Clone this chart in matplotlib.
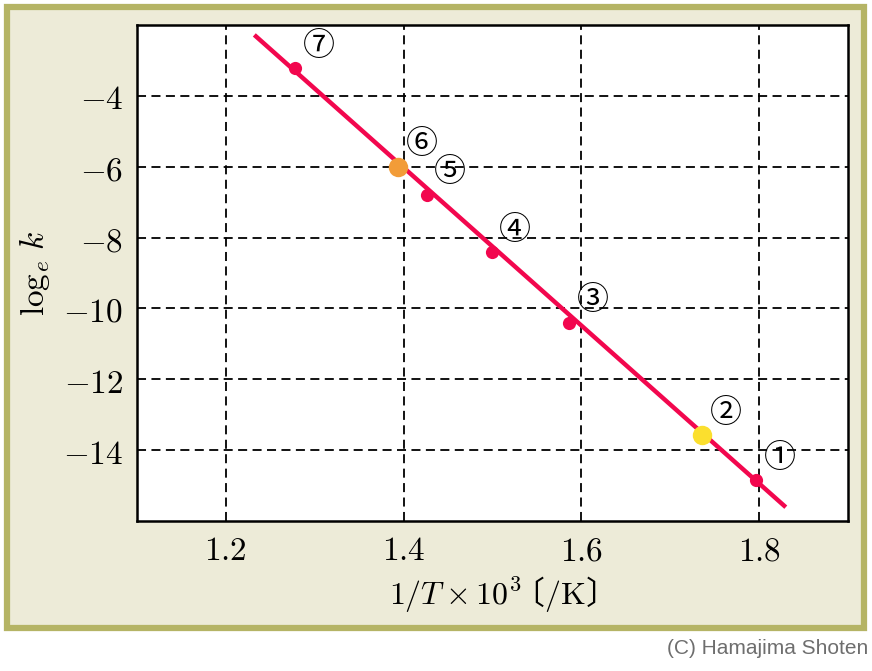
import numpy as np
import matplotlib
matplotlib.use("Agg")
import matplotlib.pyplot as plt
from matplotlib.patches import Rectangle
from matplotlib.ticker import FixedLocator, FuncFormatter

# data
pt_labels = ["①", "②", "③", "④", "⑤", "⑥", "⑦"]
inv_T = [1.797, 1.736, 1.586, 1.499, 1.426, 1.394, 1.278]
ln_k = [-14.85, -13.58, -10.40, -8.42, -6.79, -6.00, -3.21]
# highlighted points (index -> colour)
special = {1: "#FBDF2E", 5: "#F29C38"}

fit_x = [1.232, 1.830]
fit_y = [-2.28, -15.61]

x_ticks = [1.2, 1.4, 1.6, 1.8]
y_ticks = [-14, -12, -10, -8, -6, -4]

RED = "#F2074E"

plt.rcParams.update(
    {
        "mathtext.fontset": "cm",
        "font.family": ["Noto Sans CJK JP", "DejaVu Sans"],
    }
)

fig = plt.figure(figsize=(8.72, 6.71), dpi=100)

# cream panel with olive border
fig.patches.append(
    Rectangle(
        (7 / 872, 1 - 628 / 671), 857 / 872, 621 / 671,
        transform=fig.transFigure, facecolor="#EDEBD8",
        edgecolor="#B5B465", linewidth=4.5, zorder=-10,
    )
)

ax = fig.add_axes([137 / 872, 1 - 521 / 671, 711 / 872, 496 / 671])
ax.set_facecolor("white")
ax.set_zorder(1)

ax.plot(fit_x, fit_y, color=RED, lw=3.2, solid_capstyle="butt", zorder=3)

for i, (x, y) in enumerate(zip(inv_T, ln_k)):
    if i in special:
        ax.plot(x, y, "o", ms=14, color=special[i], mec="none", zorder=4)
    else:
        ax.plot(x, y, "o", ms=9.5, color=RED, mec="none", zorder=4)
    ax.annotate(
        pt_labels[i], (x, y), xytext=(17, 16), textcoords="offset points",
        ha="center", va="center", fontsize=23,
        family=["Noto Sans CJK JP", "DejaVu Sans"], zorder=5,
    )

ax.set_xlim(1.1, 1.9)
ax.set_ylim(-16, -2)
ax.xaxis.set_major_locator(FixedLocator(x_ticks))
ax.yaxis.set_major_locator(FixedLocator(y_ticks))
ax.xaxis.set_major_formatter(FuncFormatter(lambda v, p: f"${v:.1f}$"))
ax.yaxis.set_major_formatter(FuncFormatter(lambda v, p: f"${v:.0f}$"))
ax.tick_params(length=0, labelsize=24, pad=10)
ax.tick_params(axis="x", pad=9)

ax.grid(True, color="black", linestyle=(0, (5, 3)), linewidth=1.3)
ax.set_axisbelow(True)
for s in ax.spines.values():
    s.set_linewidth(1.8)

ax.set_xlabel(r"$1/T\times10^3\!\!$〔$/\mathrm{K}$〕", fontsize=23, labelpad=4)
ax.set_ylabel(r"$\log_e\,k$", fontsize=24, labelpad=8)

fig.text(
    868 / 872, 1 - 648 / 671, "(C) Hamajima Shoten", ha="right", va="center",
    fontsize=15, color="#6E6E6E", family="Liberation Sans",
)

fig.savefig("out.png", dpi=100)
